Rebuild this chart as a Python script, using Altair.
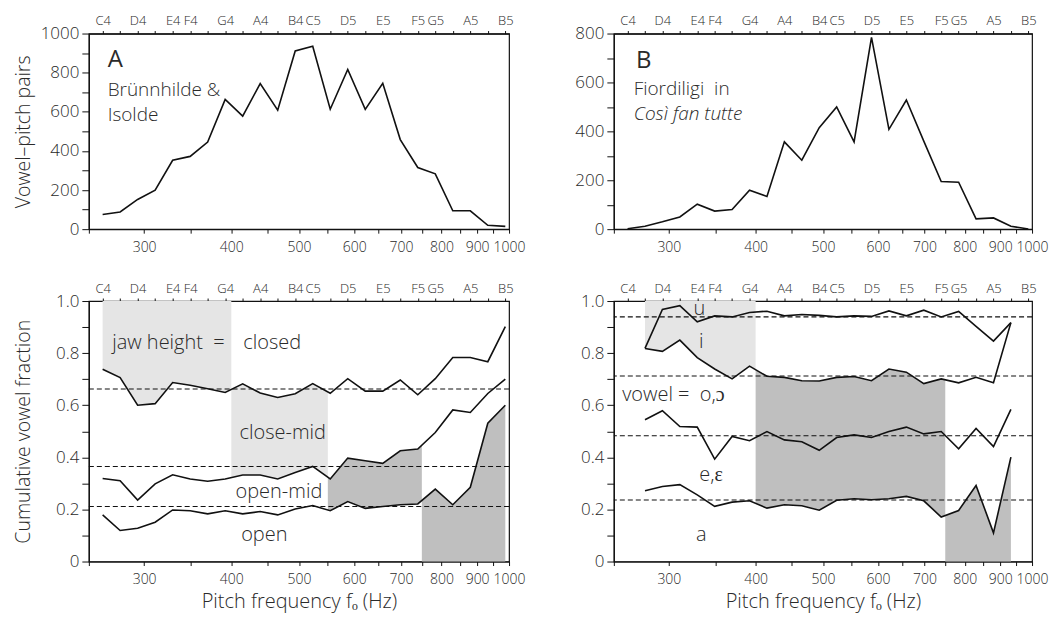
import altair as alt
import pandas as pd
import numpy as np

FONT = "Open Sans"
TXT = "#2a2a2a"
FW = 300

# semitone frequencies C4 .. B5 (Hz)
NOTE_FREQS = [261.63, 277.18, 293.66, 311.13, 329.63, 349.23, 369.99, 392.00,
              415.30, 440.00, 466.16, 493.88, 523.25, 554.37, 587.33, 622.25,
              659.26, 698.46, 739.99, 783.99, 830.61, 880.00, 932.33, 987.77]
# labels as printed on the top axis of the figure
NOTE_LABELS = ["C4", "", "D4", "", "E4", "F4", "", "G4", "", "A4", "", "B4",
               "C5", "", "D5", "", "E5", "", "F5", "G5", "", "A5", "", "B5"]

BOTTOM_TICKS = [250, 300, 350, 400, 450, 500, 550, 600, 650, 700, 750, 800,
                850, 900, 950, 1000]

# Panel A: Brünnhilde & Isolde (C4..B5)
A_counts = [75, 88, 152, 199, 352, 372, 445, 663, 578, 744, 608, 911,
            935, 613, 816, 612, 746, 458, 315, 283, 94, 94, 20, 14]
# Panel B: Fiordiligi (C4..B5)
B_counts = [2, 12, 30, 50, 102, 74, 80, 159, 134, 357, 282, 415,
            500, 357, 784, 408, 528, 360, 195, 192, 42, 46, 12, 1]

# Panel C: cumulative jaw-height fractions (C4..B5)
C_top = [0.738, 0.706, 0.600, 0.606, 0.687, 0.677, 0.663, 0.649, 0.682, 0.647,
         0.630, 0.644, 0.683, 0.646, 0.702, 0.654, 0.654, 0.697, 0.640, 0.702,
         0.783, 0.783, 0.767, 0.902]
C_mid = [0.319, 0.310, 0.236, 0.298, 0.333, 0.317, 0.308, 0.317, 0.332, 0.332,
         0.317, 0.342, 0.365, 0.317, 0.397, 0.387, 0.377, 0.425, 0.432, 0.495,
         0.582, 0.572, 0.645, 0.700]
C_bot = [0.179, 0.119, 0.128, 0.151, 0.198, 0.195, 0.183, 0.195, 0.183, 0.192,
         0.179, 0.202, 0.215, 0.195, 0.230, 0.204, 0.211, 0.218, 0.221, 0.278,
         0.218, 0.285, 0.531, 0.600]
C_dash = [0.662, 0.365, 0.211]

# Panel D: cumulative vowel fractions (C#4..A#5)
D_l1 = [0.818, 0.968, 0.982, 0.920, 0.943, 0.939, 0.956, 0.961, 0.943, 0.948,
        0.945, 0.939, 0.943, 0.941, 0.962, 0.943, 0.965, 0.939, 0.960, 0.903,
        0.846, 0.917]
D_l2 = [0.818, 0.807, 0.850, 0.783, 0.739, 0.701, 0.750, 0.711, 0.707, 0.694,
        0.693, 0.707, 0.710, 0.694, 0.739, 0.727, 0.683, 0.701, 0.686, 0.707,
        0.686, 0.917]
D_l3 = [0.544, 0.579, 0.518, 0.516, 0.393, 0.480, 0.464, 0.499, 0.467, 0.460,
        0.427, 0.476, 0.486, 0.476, 0.499, 0.516, 0.490, 0.499, 0.433, 0.511,
        0.441, 0.584]
D_l4 = [0.272, 0.288, 0.295, 0.256, 0.212, 0.228, 0.233, 0.205, 0.218, 0.214,
        0.197, 0.235, 0.241, 0.237, 0.241, 0.250, 0.233, 0.171, 0.196, 0.292,
        0.110, 0.401]
D_dash = [0.939, 0.712, 0.483, 0.236]

LIGHT = "#e5e5e5"
DARK = "#bfbfbf"

XSCALE = alt.Scale(type="log", domain=[250, 1000], nice=False)

top_label_expr = "[" + ",".join("'%s'" % s for s in NOTE_LABELS) + "][indexof([" + \
    ",".join(str(f) for f in NOTE_FREQS) + "], datum.value)]"

XTITLE = "Pitch frequency fₒ (Hz)"


def bottom_axis(title):
    kw = dict(values=BOTTOM_TICKS,
              labelExpr="datum.value % 100 == 0 ? format(datum.value, 'd') : ''",
              tickSize=4, labelPadding=7, labelFontSize=14, labelOverlap=False,
              labelFlush=False, grid=False, titleFontSize=20, titlePadding=5)
    kw["title"] = title
    return alt.Axis(**kw)


def y_axis(vals, label_every, title, fmt):
    if fmt == "int":
        expr = "datum.value %% %d == 0 ? format(datum.value, 'd') : ''" % label_every
    else:
        expr = "round(datum.value*10) % 2 == 0 ? (datum.value == 0 ? '0' : format(datum.value, '.1f')) : ''"
    kw = dict(values=vals, labelExpr=expr, tickSize=7, labelPadding=3,
              labelFontSize=17, grid=False, minExtent=51, maxExtent=51,
              titlePadding=4, titleFontSize=19.5, labelOverlap=False)
    kw["title"] = title
    return alt.Axis(**kw)


def Y(field, ydom, yax):
    return alt.Y(field, scale=alt.Scale(domain=ydom), axis=yax)


def top_layer(ydom, yax):
    df = pd.DataFrame({"f": NOTE_FREQS, "y": [ydom[0]] * len(NOTE_FREQS)})
    return alt.Chart(df).mark_point(opacity=0).encode(
        x=alt.X("f:Q", scale=XSCALE,
                axis=alt.Axis(orient="top", values=NOTE_FREQS, labelExpr=top_label_expr,
                              tickSize=3, labelPadding=3, labelFontSize=13,
                              labelOverlap=False, labelFlush=False, grid=False, title=None)),
        y=Y("y:Q", ydom, yax))


def band(freqs, lo, hi, f0, f1):
    lf = np.log(freqs)
    lo = np.broadcast_to(np.asarray(lo, dtype=float), (len(freqs),))
    hi = np.broadcast_to(np.asarray(hi, dtype=float), (len(freqs),))
    f0 = max(f0, freqs[0])
    f1 = min(f1, freqs[-1])
    xs = [f0] + [f for f in freqs if f0 < f < f1] + [f1]
    return pd.DataFrame({
        "f": xs,
        "lo": [float(np.interp(np.log(f), lf, lo)) for f in xs],
        "hi": [float(np.interp(np.log(f), lf, hi)) for f in xs],
    })


def area_layer(df, color, ydom, yax):
    return alt.Chart(df).mark_area(color=color, opacity=1, interpolate="linear").encode(
        x=alt.X("f:Q", scale=XSCALE, axis=None),
        y=Y("lo:Q", ydom, yax),
        y2="hi:Q")


def text_layer(df, align, ydom, yax, size=19, style="normal", weight=FW):
    return alt.Chart(df).mark_text(align=align, baseline="middle", fontSize=size,
                                   font=FONT, fontStyle=style, fontWeight=weight,
                                   color=TXT).encode(
        x=alt.X("x:Q", scale=XSCALE, axis=None),
        y=Y("y:Q", ydom, yax), text="t:N")


def dash_layer(vals, ydom, yax):
    df = pd.DataFrame({"v": vals})
    return alt.Chart(df).mark_rule(strokeDash=[5, 3], color="#111", strokeWidth=1.1).encode(
        y=Y("v:Q", ydom, yax))


def lines_layer(freqs, series, ydom, yax, xaxis):
    recs = []
    for k, s in enumerate(series):
        for f, v in zip(freqs, s):
            recs.append({"f": f, "v": v, "s": k})
    df = pd.DataFrame(recs)
    return alt.Chart(df).mark_line(color="#111", strokeWidth=1.6).encode(
        x=alt.X("f:Q", scale=XSCALE, axis=xaxis),
        y=Y("v:Q", ydom, yax),
        detail="s:N", order="f:Q")


NB = "\u00a0"

# ---------- Panel A ----------
yA = [0, 1000]
axA = y_axis(list(range(0, 1001, 100)), 200, "Vowel–pitch pairs", "int")
panelA = alt.layer(
    lines_layer(NOTE_FREQS, [A_counts], yA, axA, bottom_axis(None)),
    text_layer(pd.DataFrame({"x": [266], "y": [865], "t": ["A"]}), "left", yA, axA,
               size=24, weight="normal"),
    text_layer(pd.DataFrame({"x": [266, 266], "y": [709, 582],
                             "t": ["Brünnhilde &", "Isolde"]}), "left", yA, axA),
    top_layer(yA, axA),
).resolve_axis(x="independent").properties(width=421, height=196)

# ---------- Panel B ----------
yB = [0, 800]
axB = y_axis(list(range(0, 801, 100)), 200, None, "int")
panelB = alt.layer(
    lines_layer(NOTE_FREQS, [B_counts], yB, axB, bottom_axis(None)),
    text_layer(pd.DataFrame({"x": [269], "y": [688], "t": ["B"]}), "left", yB, axB,
               size=24, weight="normal"),
    text_layer(pd.DataFrame({"x": [267], "y": [572], "t": ["Fiordiligi" + NB + NB + "in"]}),
               "left", yB, axB),
    text_layer(pd.DataFrame({"x": [267], "y": [472], "t": ["Così fan tutte"]}), "left",
               yB, axB, style="italic"),
    top_layer(yB, axB),
).resolve_axis(x="independent").properties(width=419, height=196)

# ---------- Panel C ----------
yC = [0, 1]
tenths = [round(0.1 * i, 1) for i in range(11)]
axC = y_axis(tenths, 2, "Cumulative vowel fraction", "frac")
fr = NOTE_FREQS
panelC = alt.layer(
    area_layer(band(fr, C_top, 1.0, 0, 400), LIGHT, yC, axC),
    area_layer(band(fr, C_mid, C_top, 400, 550), LIGHT, yC, axC),
    area_layer(band(fr, C_bot, C_mid, 550, 750), DARK, yC, axC),
    area_layer(band(fr, 0.0, C_bot, 750, 2000), DARK, yC, axC),
    dash_layer(C_dash, yC, axC),
    lines_layer(NOTE_FREQS, [C_top, C_mid, C_bot], yC, axC, bottom_axis(XTITLE)),
    text_layer(pd.DataFrame({"x": [270, 416], "y": [0.84, 0.84],
                             "t": ["jaw height" + NB + NB + "=", "closed"]}), "left", yC, axC,
               size=20),
    text_layer(pd.DataFrame({"x": [474, 468, 446], "y": [0.495, 0.266, 0.10],
                             "t": ["close-mid", "open-mid", "open"]}), "center", yC, axC,
               size=20),
    top_layer(yC, axC),
).resolve_axis(x="independent").properties(width=421, height=261)

# ---------- Panel D ----------
axD = y_axis(tenths, 2, None, "frac")
frD = NOTE_FREQS[1:23]
panelD = alt.layer(
    area_layer(band(frD, D_l2, 1.0, 0, 400), LIGHT, yC, axD),
    area_layer(band(frD, D_l4, D_l2, 400, 750), DARK, yC, axD),
    area_layer(band(frD, 0.0, D_l4, 750, 2000), DARK, yC, axD),
    dash_layer(D_dash, yC, axD),
    lines_layer(frD, [D_l1, D_l2, D_l3, D_l4], yC, axD, bottom_axis(XTITLE)),
    text_layer(pd.DataFrame({"x": [257], "y": [0.64], "t": ["vowel" + NB + "=" + NB + NB + "o,ɔ"]}),
               "left", yC, axD, size=20),
    text_layer(pd.DataFrame({"x": [332, 334, 345, 334], "y": [0.968, 0.843, 0.333, 0.103],
                             "t": ["u", "i", "e,ɛ", "a"]}), "center", yC, axD, size=20),
    top_layer(yC, axD),
).resolve_axis(x="independent").properties(width=419, height=261)

row1 = alt.hconcat(panelA, panelB, spacing=105, bounds="flush")
row2 = alt.hconcat(panelC, panelD, spacing=105, bounds="flush")

chart = alt.vconcat(row1, row2, spacing=26).configure(
    font=FONT
).configure_view(
    stroke="#111", strokeWidth=1.2
).configure_axis(
    domainColor="#111", tickColor="#111", labelColor=TXT, titleColor=TXT,
    labelFont=FONT, titleFont=FONT, domainWidth=1.2, tickWidth=1,
    labelFontWeight=FW, titleFontWeight=FW
)

chart.save("out.html", embed_options={"renderer": "svg", "actions": False})
